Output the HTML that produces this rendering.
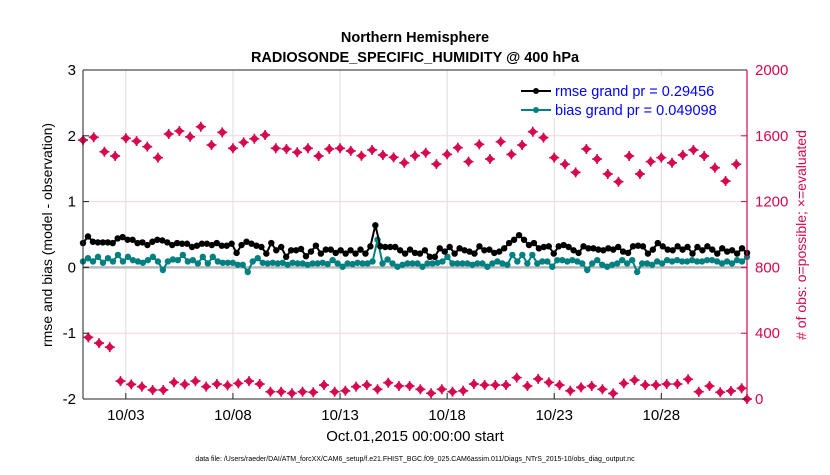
<!DOCTYPE html>
<html><head><meta charset="utf-8"><style>
body{margin:0;background:#fff;}
svg text{font-family:"Liberation Sans",Arial,sans-serif;}
</style></head><body>
<svg id="chart" width="830" height="470" xmlns="http://www.w3.org/2000/svg">
<rect width="830" height="470" fill="#fff"/>
<g id="grid"></g>
<g id="marks"></g>
<g id="axes"></g>
<text x="415" y="42" text-anchor="middle" font-size="14.5" font-weight="bold">Northern Hemisphere</text>
<text x="415" y="62" text-anchor="middle" font-size="14.5" font-weight="bold">RADIOSONDE_SPECIFIC_HUMIDITY @ 400 hPa</text>
<text x="415" y="441" text-anchor="middle" font-size="15">Oct.01,2015 00:00:00 start</text>
<text transform="translate(52,235) rotate(-90)" text-anchor="middle" font-size="14">rmse and bias (model - observation)</text>
<text transform="translate(806,235) rotate(-90)" text-anchor="middle" font-size="14" fill="#d6084f"># of obs: o=possible; ×=evaluated</text>
<text x="415" y="461" text-anchor="middle" font-size="7">data file: /Users/raeder/DAI/ATM_forcXX/CAM6_setup/f.e21.FHIST_BGC.f09_025.CAM6assim.011/Diags_NTrS_2015-10/obs_diag_output.nc</text>
<g>
<rect x="518" y="76" width="226" height="42" fill="#fff"/>
<line x1="521" y1="91" x2="551" y2="91" stroke="#000" stroke-width="2"/><circle cx="536" cy="91" r="3" fill="#000"/>
<text x="555" y="96" font-size="14.5" fill="#0000ff">rmse grand pr = 0.29456</text>
<line x1="521" y1="110" x2="551" y2="110" stroke="#008080" stroke-width="2"/><circle cx="536" cy="110" r="3" fill="#008080"/>
<text x="555" y="115" font-size="14.5" fill="#0000ff">bias grand pr = 0.049098</text>
</g>
</svg>
<script>
const xTickDays=[2,7,12,17,22,27];
const xTickLabels=["10/03","10/08","10/13","10/18","10/23","10/28"];
const leftTicks=[3,2,1,0,-1,-2];
const rightTicks=[2000,1600,1200,800,400,0];
const possible=[1574,1591,1503,1477,1585,1568,1534,1467,1611,1629,1594,1655,1544,1621,1524,1560,1582,1605,1524,1520,1500,1524,1477,1520,1524,1508,1479,1514,1483,1469,1436,1479,1497,1428,1487,1528,1443,1548,1459,1564,1487,1544,1625,1589,1467,1427,1378,1520,1459,1368,1321,1477,1368,1443,1467,1436,1483,1514,1477,1406,1325,1427];
const evaluated=[375,340,315,109,89,75,55,55,101,89,109,75,91,83,95,109,91,44,44,35,44,41,85,44,50,75,85,59,99,79,79,59,35,59,44,50,91,85,85,85,130,79,122,101,85,50,71,79,59,34,95,115,85,85,91,91,120,44,79,41,49,65,0];
const rmse=[0.37,0.47,0.39,0.38,0.38,0.38,0.37,0.44,0.46,0.42,0.42,0.37,0.38,0.34,0.39,0.42,0.41,0.38,0.34,0.37,0.36,0.36,0.31,0.33,0.36,0.36,0.34,0.37,0.33,0.33,0.36,0.22,0.34,0.39,0.36,0.33,0.31,0.21,0.37,0.26,0.31,0.16,0.26,0.26,0.28,0.17,0.24,0.33,0.21,0.27,0.27,0.22,0.26,0.21,0.26,0.21,0.27,0.21,0.32,0.64,0.32,0.31,0.31,0.31,0.26,0.21,0.27,0.22,
0.21,0.26,0.16,0.16,0.29,0.24,0.31,0.21,0.29,0.26,0.24,0.21,0.32,0.26,0.27,0.22,0.24,0.29,0.37,0.42,0.49,0.42,0.34,0.37,0.29,0.31,0.32,0.21,0.32,0.34,0.31,0.26,0.22,0.32,0.29,0.29,0.27,0.26,0.29,0.27,0.31,0.24,0.22,0.32,0.33,0.32,0.21,0.27,0.37,0.32,0.27,0.26,0.32,0.27,0.31,0.21,0.31,0.26,0.32,0.27,0.21,0.29,0.24,0.26,0.21,0.29,0.22];
const bias=[0.09,0.14,0.09,0.16,0.07,0.14,0.09,0.19,0.09,0.16,0.11,0.09,0.07,0.11,0.16,0.09,-0.04,0.09,0.12,0.11,0.19,0.09,0.11,0.06,0.16,0.06,0.16,0.09,0.07,0.07,0.07,0.04,0.04,-0.07,0.09,0.14,0.07,0.06,0.07,0.06,0.07,0.04,0.07,0.06,0.06,0.04,0.06,0.06,0.07,0.05,0.11,0.06,0.01,0.06,0.05,0.07,0.06,0.06,0.09,0.42,0.06,0.12,0.06,0.01,0.04,0.06,0.06,0.06,
0.01,0.06,0.06,0.07,0.09,0.16,0.06,0.06,0.06,0.06,0.04,0.06,0.06,0.01,0.06,0.09,0.06,0.04,0.19,0.09,0.19,0.06,0.19,0.06,0.09,0.09,0.01,0.11,0.11,0.09,0.11,0.09,0.06,-0.04,0.06,0.11,0.04,0.01,0.04,0.06,0.11,0.06,0.11,-0.07,0.06,0.06,0.04,0.09,0.06,0.11,0.09,0.11,0.09,0.09,0.11,0.09,0.09,0.11,0.11,0.09,0.06,0.09,0.06,0.11,0.09,0.16];
const X0=83,X1=747,Y0=70,Y1=399,DAYS=31;
const xS=d=>X0+(d/DAYS)*(X1-X0);
const yL=v=>Y1-(v+2)/5*(Y1-Y0);
const yR=v=>Y1-v/2000*(Y1-Y0);
const NS="http://www.w3.org/2000/svg";
function mk(tag,attrs,parent){const e=document.createElementNS(NS,tag);for(const k in attrs)e.setAttribute(k,attrs[k]);parent.appendChild(e);return e;}
const grid=document.getElementById('grid'),marks=document.getElementById('marks'),axes=document.getElementById('axes');
xTickDays.forEach((d,i)=>{
 const g=mk('line',{x1:xS(d),x2:xS(d),y1:Y0,y2:Y1,stroke:'#dcdcdc','stroke-width':1},grid);
 
 
 const t=mk('line',{x1:xS(d),x2:xS(d),y1:Y1,y2:Y1-6,stroke:'#222','stroke-width':1},axes);
 
 
 const l=mk('text',{x:xS(d),y:Y1+21,'text-anchor':'middle','font-size':15},axes);
 l.textContent=xTickLabels[i];
 
 
});
rightTicks.forEach(v=>{
 if(v>0&&v<2000){const g=mk('line',{x1:X0,x2:X1,y1:yR(v),y2:yR(v),stroke:'#f3d6df','stroke-width':1},grid);
 
 }
 const l=mk('text',{x:X1+8,y:yR(v)+5,'font-size':15,fill:'#d6084f'},axes);
 l.textContent=v;
 
 
 const t=mk('line',{x1:X1,x2:X1-6,y1:yR(v),y2:yR(v),stroke:'#d6084f'},axes);
 
 
});
leftTicks.forEach(v=>{
 const l=mk('text',{x:X0-7,y:yL(v)+5,'text-anchor':'end','font-size':15},axes);
 l.textContent=v;
 
 
 const t=mk('line',{x1:X0,x2:X0+6,y1:yL(v),y2:yL(v),stroke:'#222'},axes);
 
 
});
const z=mk('line',{x1:X0,x2:X1,y1:yL(0),y2:yL(0),stroke:'#bbbbbb','stroke-width':2.5},grid);


function obs(arr,off,name){
 arr.forEach((v,i)=>{
  let d=off+i*0.5; if(d>DAYS)d=DAYS;
  const g=mk('g',{},marks);
  
  
  const cx=xS(d),cy=yR(v);
  mk('path',{d:`M${cx-4.5},${cy}L${cx},${cy-4.5}L${cx+4.5},${cy}L${cx},${cy+4.5}Z`,fill:'#d6084f'},g);
  mk('path',{d:`M${cx-5},${cy}H${cx+5}M${cx},${cy-5}V${cy+5}`,stroke:'#d6084f','stroke-width':1.6},g);
 });
}
obs(possible,0,'possible-obs-point');
obs(evaluated,0.25,'evaluated-obs-point');
function series(arr,color,name){
 const step=DAYS/(arr.length-1);
 const pts=arr.map((v,i)=>[xS(i*step),yL(v)]);
 const p=mk('polyline',{points:pts.map(p=>p.join(',')).join(' '),fill:'none',stroke:color,'stroke-width':2},marks);
 
 
 pts.forEach(q=>{const c=mk('circle',{cx:q[0],cy:q[1],r:3.2,fill:color},marks);
 
 });
}
series(bias,'#008080','bias');
series(rmse,'#000000','rmse');
const la=mk('line',{x1:X0,x2:X0,y1:Y0,y2:Y1,stroke:'#222','stroke-width':1},axes);


const ba=mk('line',{x1:X0,x2:X1,y1:Y1,y2:Y1,stroke:'#222','stroke-width':1},axes);


const ta=mk('line',{x1:X0,x2:X1,y1:Y0,y2:Y0,stroke:'#222','stroke-width':1},axes);


const ra=mk('line',{x1:X1,x2:X1,y1:Y0,y2:Y1,stroke:'#d6084f','stroke-width':1.2},axes);


</script>
</body></html>
